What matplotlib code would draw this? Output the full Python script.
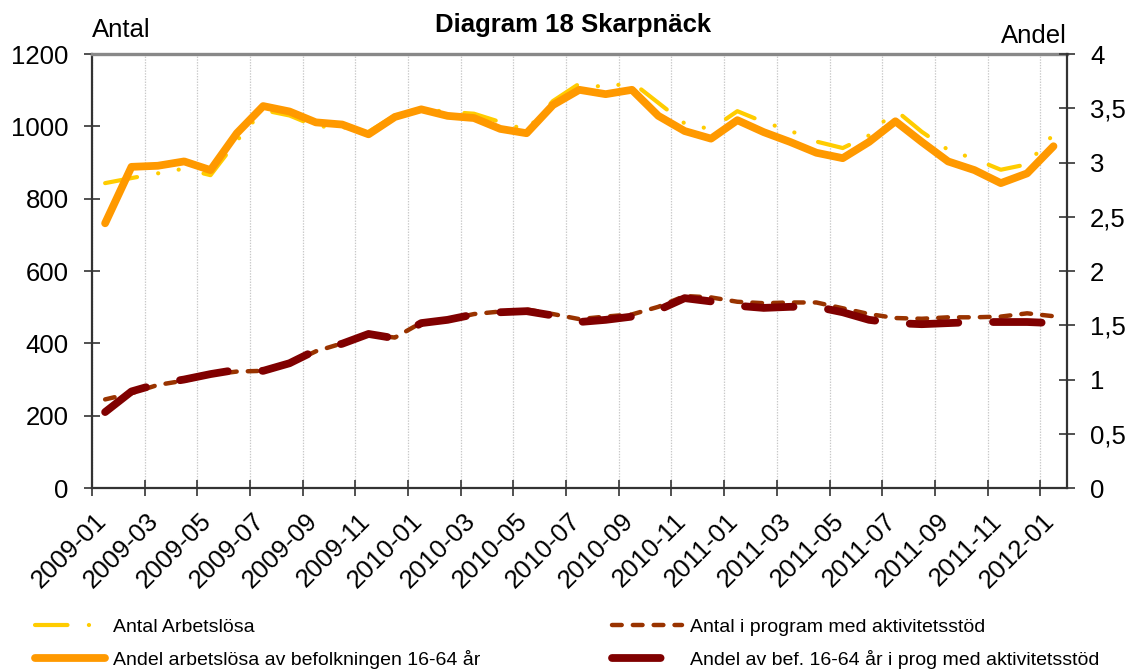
import matplotlib.pyplot as plt
import numpy as np
from matplotlib.ticker import FuncFormatter

plt.rcParams["font.family"] = ["Liberation Sans", "DejaVu Sans"]
# dash lengths in points, not scaled by line width
plt.rcParams["lines.scale_dashes"] = False

# Data
months = [
    "2009-01", "2009-02", "2009-03", "2009-04", "2009-05", "2009-06",
    "2009-07", "2009-08", "2009-09", "2009-10", "2009-11", "2009-12",
    "2010-01", "2010-02", "2010-03", "2010-04", "2010-05", "2010-06",
    "2010-07", "2010-08", "2010-09", "2010-10", "2010-11", "2010-12",
    "2011-01", "2011-02", "2011-03", "2011-04", "2011-05", "2011-06",
    "2011-07", "2011-08", "2011-09", "2011-10", "2011-11", "2011-12",
    "2012-01",
]
# left axis (Antal)
antal_arbetslosa = [843, 857, 870, 883, 865, 960, 1045, 1030, 1000, 998,
                    985, 1030, 1048, 1040, 1035, 1012, 990, 1070, 1118, 1108,
                    1122, 1065, 1008, 992, 1042, 1012, 988, 958, 940, 975,
                    1045, 985, 935, 910, 880, 895, 978]
antal_program = [245, 262, 285, 297, 313, 322, 324, 343, 378, 400,
                 425, 416, 457, 465, 481, 488, 494, 481, 467, 474,
                 480, 501, 531, 527, 515, 511, 513, 513, 497, 481,
                 470, 468, 472, 472, 474, 483, 475]
# right axis (Andel)
andel_arbetslosa = [2.44, 2.96, 2.97, 3.01, 2.93, 3.27, 3.52, 3.47, 3.37, 3.35,
                    3.26, 3.42, 3.49, 3.43, 3.41, 3.31, 3.27, 3.53, 3.67, 3.63,
                    3.67, 3.43, 3.29, 3.22, 3.39, 3.28, 3.19, 3.09, 3.04, 3.19,
                    3.38, 3.19, 3.01, 2.93, 2.81, 2.90, 3.15]
andel_program = [0.70, 0.89, 0.96, 1.00, 1.05, 1.09, 1.08, 1.15, 1.27, 1.33,
                 1.42, 1.38, 1.52, 1.55, 1.60, 1.62, 1.63, 1.59, 1.53, 1.55,
                 1.58, 1.64, 1.75, 1.72, 1.68, 1.66, 1.67, 1.67, 1.62, 1.55,
                 1.52, 1.51, 1.52, 1.53, 1.53, 1.53, 1.52]

labels = [
    "Antal Arbetslösa",
    "Andel arbetslösa av befolkningen 16-64 år",
    "Antal i program med aktivitetsstöd",
    "Andel av bef. 16-64 år i prog med aktivitetsstöd",
]

fs = 18.5
x = np.arange(len(months))

fig = plt.figure(figsize=(11.31, 6.71), dpi=100)
ax = fig.add_axes([0.0813, 0.2727, 0.8618, 0.6468])
ax2 = ax.twinx()

l1, = ax.plot(x, antal_arbetslosa, color="#FFCC00", lw=3,
              dashes=(23.4, 15.4, 0.1, 14.9, 0.1, 18.3),
              dash_capstyle="round", dash_joinstyle="round")
l3, = ax.plot(x, antal_program, color="#993300", lw=3.2, dashes=(7, 8),
              dash_capstyle="round", dash_joinstyle="round")
l2, = ax2.plot(x, andel_arbetslosa, color="#FF9900", lw=5.6,
               solid_capstyle="round", solid_joinstyle="round")
l4, = ax2.plot(x, andel_program, color="#800000", lw=5.6, dashes=(35, 25),
               dash_capstyle="round", dash_joinstyle="round")

ax.set_xlim(-0.5, len(months) - 0.5)
ax.set_ylim(0, 1200)
ax2.set_ylim(0, 4)

# ticks and gridlines between categories
ax.set_xticks(np.arange(-0.5, len(months) - 1, 2))
ax.set_xticklabels([])
ax.grid(axis="x", color="#c8c8c8", linestyle=(0, (1, 1)), lw=0.9)
ax.set_yticks(range(0, 1201, 200))
ax2.set_yticks(np.arange(0, 4.01, 0.5))
ax2.yaxis.set_major_formatter(FuncFormatter(lambda v, p: f"{v:g}".replace(".", ",")))

tick_col = "#333333"
ax.tick_params(axis="x", direction="inout", length=11.5, width=1.2, color=tick_col)
ax.tick_params(axis="y", direction="inout", length=11.5, width=1.2, color=tick_col,
               pad=11, labelsize=fs)
ax2.tick_params(axis="y", direction="inout", length=11.5, width=1.2, color=tick_col,
                pad=11, labelsize=fs)

# month labels on every other category
for i in range(0, len(months), 2):
    ax.annotate(months[i], xy=(i, 0), xycoords=("data", "axes fraction"),
                xytext=(-8, -15), textcoords="offset points", rotation=45,
                ha="right", va="top", rotation_mode="anchor", fontsize=fs)

# spines
for a in (ax, ax2):
    a.spines["top"].set_color("#888888")
    a.spines["top"].set_linewidth(2.4)
    for s in ("left", "right", "bottom"):
        a.spines[s].set_color(tick_col)
        a.spines[s].set_linewidth(1.6)
ax.spines["right"].set_visible(False)
for s in ("top", "left", "bottom"):
    ax2.spines[s].set_visible(False)

# texts
fig.text(0.507, 0.9523, "Diagram 18 Skarpnäck", ha="center", va="baseline",
         fontsize=fs, fontweight="bold")
fig.text(0.0813, 0.9449, "Antal", ha="left", va="baseline", fontsize=fs)
fig.text(0.9434, 0.936, "Andel", ha="right", va="baseline", fontsize=fs)

fig.legend([l1, l2, l3, l4], labels, ncol=2, loc="upper left",
           bbox_to_anchor=(0.031, 0.079), frameon=False, fontsize=14,
           handlelength=3.6, handletextpad=0.4, columnspacing=6.8,
           labelspacing=0.75, borderpad=0, borderaxespad=0)

fig.savefig("out.png", dpi=100)
